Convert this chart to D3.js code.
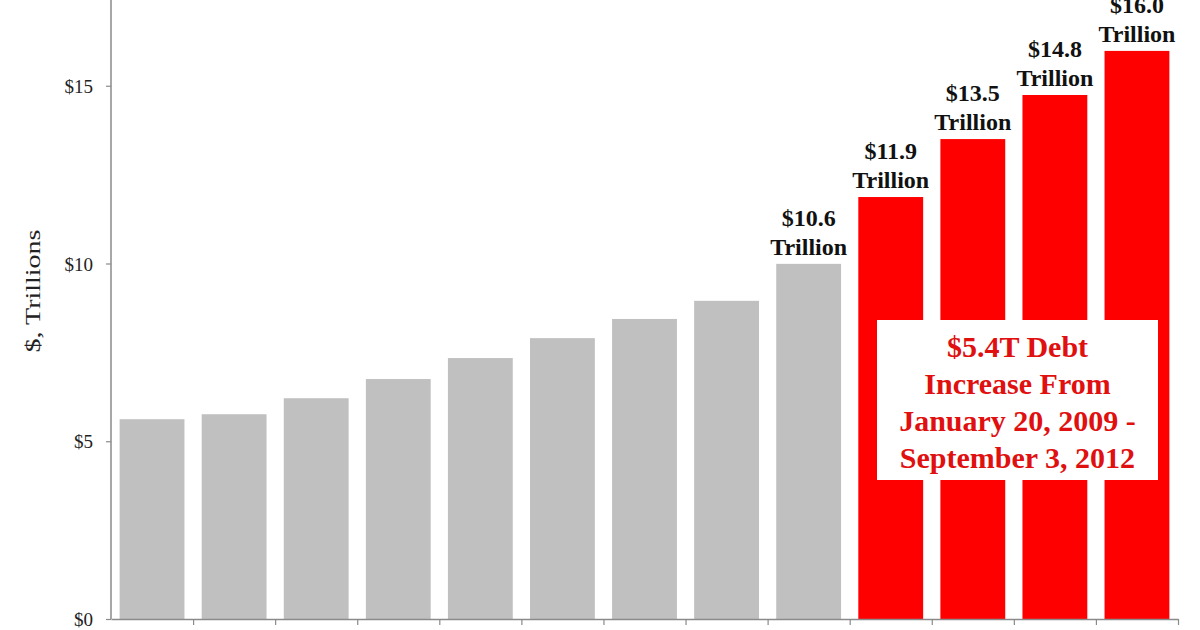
<!DOCTYPE html>
<html>
<head>
<meta charset="utf-8">
<script src="https://cdn.jsdelivr.net/npm/d3@7"></script>
<style>
  html, body { margin: 0; padding: 0; background: #fff; }
  svg { display: block; }
</style>
</head>
<body>
<svg id="chart" width="1200" height="630"></svg>
<script>
// ---- data ----
const categories = ["2000","2001","2002","2003","2004","2005","2006","2007","2008","2009","2010","2011","2012"];
const debtValues = [5.62, 5.76, 6.21, 6.75, 7.34, 7.90, 8.44, 8.95, 9.99, 11.87, 13.50, 14.74, 15.98];
const highlighted = [false,false,false,false,false,false,false,false,false,true,true,true,true];
const barLabels = ["","","","","","","","","$10.6","$11.9","$13.5","$14.8","$16.0"];
const yTickValues = [0, 5, 10, 15];
const yTickLabels = ["$0", "$5", "$10", "$15"];
const yAxisTitle = "$, Trillions";
const annotationLines = ["$5.4T Debt", "Increase From", "January 20, 2009 -", "September 3, 2012"];

// ---- layout ----
const svg = d3.select("#chart");
const serif = "'Times New Roman', 'Liberation Serif', 'DejaVu Serif', serif";
const x0 = 111, x1 = 1178, yBase = 619, pxPerUnit = 35.55;

const x = d3.scaleBand().domain(categories).range([x0, x1]).paddingInner(0.21).paddingOuter(0.105);
const y = d3.scaleLinear().domain([0, 20]).range([yBase, yBase - 20 * pxPerUnit]);

// bars
svg.append("g").selectAll("rect").data(categories).join("rect")
  .attr("x", d => x(d))
  .attr("y", (d, i) => y(debtValues[i]))
  .attr("width", x.bandwidth())
  .attr("height", (d, i) => y(0) - y(debtValues[i]))
  .attr("fill", (d, i) => highlighted[i] ? "#ff0000" : "#c0c0c0");

// y axis
const yAxis = d3.axisLeft(y).tickValues(yTickValues).tickSize(5).tickSizeOuter(0)
  .tickFormat((d, i) => yTickLabels[i]);
const gy = svg.append("g").attr("transform", `translate(${x0},0)`).call(yAxis);
gy.select(".domain").attr("stroke", "#8a8a8a").attr("stroke-width", 1.5)
  .attr("d", `M0,${yBase}V-10`);
gy.selectAll(".tick line").attr("stroke", "#8a8a8a").attr("stroke-width", 1.2);
gy.selectAll(".tick text").attr("font-family", serif).attr("font-size", 19)
  .attr("fill", "#222").attr("x", -18).attr("dy", "0.35em");

// x axis: ticks at category boundaries
const boundaries = categories.map(c => x(c) + x.bandwidth() + x.step() * x.paddingInner() / 2);
const xb = d3.scaleLinear().domain([x0, x1]).range([x0, x1]);
const xAxis = d3.axisBottom(xb).tickValues(boundaries).tickSize(6).tickSizeOuter(0).tickFormat("");
const gx = svg.append("g").attr("transform", `translate(0,${yBase})`).call(xAxis);
gx.select(".domain").attr("stroke", "#8a8a8a").attr("stroke-width", 1.5);
gx.selectAll(".tick line").attr("stroke", "#8a8a8a").attr("stroke-width", 1.2);

// y axis title
svg.append("text")
  .attr("transform", `translate(40,291) rotate(-90)`)
  .attr("text-anchor", "middle")
  .attr("font-family", serif).attr("font-size", 22)
  .attr("textLength", 123).attr("lengthAdjust", "spacingAndGlyphs")
  .attr("fill", "#222")
  .text(yAxisTitle);

// bar value labels
const lab = svg.append("g");
categories.forEach((c, i) => {
  if (!barLabels[i]) return;
  const cx = x(c) + x.bandwidth() / 2;
  const top = y(debtValues[i]);
  lab.append("text").attr("x", cx).attr("y", top - 38)
    .attr("text-anchor", "middle").attr("font-family", serif)
    .attr("font-weight", "bold").attr("font-size", 24).attr("fill", "#111")
    .text(barLabels[i]);
  lab.append("text").attr("x", cx).attr("y", top - 9)
    .attr("text-anchor", "middle").attr("font-family", serif)
    .attr("font-weight", "bold").attr("font-size", 24).attr("fill", "#111")
    .text("Trillion");
});

// annotation box
const boxX = 877, boxY = 320, boxW = 281, boxH = 160;
svg.append("rect").attr("x", boxX).attr("y", boxY).attr("width", boxW).attr("height", boxH)
  .attr("fill", "#ffffff");
const ann = svg.append("g");
annotationLines.forEach((t, i) => {
  ann.append("text")
    .attr("x", boxX + boxW / 2).attr("y", 357 + i * 37)
    .attr("text-anchor", "middle").attr("font-family", serif)
    .attr("font-weight", "bold").attr("font-size", 30).attr("fill", "#e01010")
    .text(t);
});
</script>
</body>
</html>
